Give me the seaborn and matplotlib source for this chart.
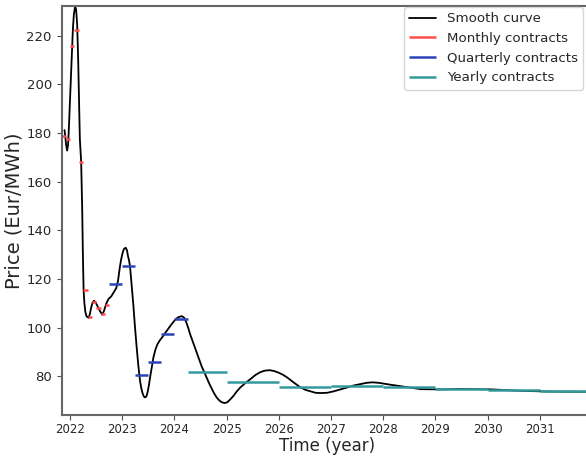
import numpy as np
import pandas as pd
import seaborn as sns
import matplotlib.pyplot as plt

# smooth curve (decimal year, Eur/MWh)
curve_t = [2021.892, 2021.908, 2021.923, 2021.942, 2021.960, 2021.975, 2021.994, 2022.013,
           2022.033, 2022.052, 2022.071, 2022.096, 2022.115, 2022.135, 2022.154, 2022.171,
           2022.186, 2022.211, 2022.231, 2022.244, 2022.258, 2022.273, 2022.292, 2022.315,
           2022.354, 2022.379, 2022.398, 2022.427, 2022.456, 2022.484, 2022.513, 2022.571,
           2022.615, 2022.648, 2022.692, 2022.734, 2022.788, 2022.840, 2022.884, 2022.917,
           2022.950, 2022.975, 2023.003, 2023.032, 2023.065, 2023.090, 2023.109, 2023.128,
           2023.148, 2023.176, 2023.211, 2023.244, 2023.276, 2023.307, 2023.340, 2023.365,
           2023.388, 2023.413, 2023.436, 2023.461, 2023.484, 2023.509, 2023.532, 2023.565,
           2023.596, 2023.634, 2023.672, 2023.715, 2023.757, 2023.840, 2023.917, 2024.013,
           2024.070, 2024.142, 2024.186, 2024.224, 2024.263, 2024.301, 2024.378, 2024.461,
           2024.522, 2024.589, 2024.666, 2024.749, 2024.801, 2024.839, 2024.897, 2024.960,
           2025.012, 2025.070, 2025.133, 2025.195, 2025.262, 2025.358, 2025.454, 2025.551,
           2025.647, 2025.733, 2025.825, 2025.916, 2025.993, 2026.079, 2026.160, 2026.281,
           2026.416, 2026.512, 2026.608, 2026.704, 2026.800, 2026.925, 2027.050, 2027.185,
           2027.313, 2027.434, 2027.569, 2027.684, 2027.794, 2027.915, 2028.030, 2028.146,
           2028.275, 2028.492, 2028.722, 2029.107, 2029.491, 2030.068, 2030.645, 2031.222,
           2031.914]
curve_p = [181.2, 178.4, 175.1, 172.8, 175.1, 181.6, 191.8, 202.9,
           213.5, 222.4, 228.6, 232.2, 230.6, 224.5, 210.2, 191.8,
           177.6, 168.2, 149.0, 130.6, 115.5, 110.2, 106.5, 104.7,
           104.1, 105.7, 107.8, 110.2, 111.1, 110.6, 109.4, 106.9,
           105.4, 106.9, 109.9, 111.8, 112.9, 114.7, 116.3, 119.2,
           124.5, 127.8, 130.6, 132.4, 132.9, 131.8, 129.4, 127.8,
           125.2, 118.4, 109.5, 100.0, 91.8, 84.5, 78.2, 75.1,
           73.1, 71.8, 71.4, 71.8, 73.5, 76.3, 79.6, 83.7,
           87.8, 91.0, 93.2, 94.7, 95.9, 98.4, 100.7, 103.3,
           104.3, 104.8, 104.1, 102.4, 100.0, 97.3, 92.7, 87.8,
           84.1, 80.9, 77.1, 73.5, 71.6, 70.6, 69.5, 69.1,
           69.4, 70.6, 72.1, 73.9, 75.5, 77.3, 78.9, 80.6,
           81.8, 82.4, 82.6, 82.2, 81.6, 80.7, 79.6, 77.6,
           75.5, 74.5, 73.9, 73.3, 73.2, 73.3, 73.9, 74.7,
           75.5, 76.3, 76.9, 77.4, 77.6, 77.4, 77.0, 76.6,
           76.2, 75.5, 74.8, 74.7, 74.9, 74.7, 74.1, 73.8,
           73.7]

# monthly contracts Nov 2021 .. Sep 2022
month_start = [2021 + 10/12, 2021 + 11/12, 2022.0, 2022 + 1/12, 2022 + 2/12, 2022 + 3/12,
               2022 + 4/12, 2022 + 5/12, 2022 + 6/12, 2022 + 7/12, 2022 + 8/12]
month_end = [2021 + 11/12, 2022.0, 2022 + 1/12, 2022 + 2/12, 2022 + 3/12, 2022 + 4/12,
             2022 + 5/12, 2022 + 6/12, 2022 + 7/12, 2022 + 8/12, 2022 + 9/12]
month_price = [178.9, 177.4, 215.6, 222.3, 167.9, 115.4, 104.6, 110.5, 108.2, 105.8, 109.5]

# quarterly contracts Q4 2022 .. Q1 2024
quarter_start = [2022.75, 2023.0, 2023.25, 2023.5, 2023.75, 2024.0]
quarter_end = [2023.0, 2023.25, 2023.5, 2023.75, 2024.0, 2024.25]
quarter_price = [118.0, 125.2, 80.8, 86.1, 97.6, 103.8]

# yearly contracts
year_start = [2024.25, 2025, 2026, 2027, 2028, 2029, 2030, 2031]
year_end = [2025, 2026, 2027, 2028, 2029, 2030, 2031, 2032]
year_price = [81.9, 77.7, 75.8, 76.2, 75.6, 75.0, 74.3, 73.9]

year_ticks = [2022, 2023, 2024, 2025, 2026, 2027, 2028, 2029, 2030, 2031]

sns.set_style('white')
plt.rcParams['font.family'] = ['DejaVu Sans']

fig = plt.figure(figsize=(5.86, 4.57), dpi=100)
ax = fig.add_axes([0.105, 0.092, 0.905, 0.895])

curve_df = pd.DataFrame({'t': curve_t, 'price': curve_p})
sns.lineplot(data=curve_df, x='t', y='price', ax=ax, color='black', linewidth=1.3,
             sort=False, estimator=None, label='Smooth curve')

ax.hlines(month_price, month_start, month_end, colors='#ff4d4d', linewidth=1.8, label='Monthly contracts')
ax.hlines(quarter_price, quarter_start, quarter_end, colors='#2b44b8', linewidth=1.8, label='Quarterly contracts')
ax.hlines(year_price, year_start, year_end, colors='#339a9c', linewidth=1.8, label='Yearly contracts')

ax.set_xlim(2021.835, 2032.0)
ax.set_ylim(64.2, 232.2)
ax.set_xticks(year_ticks)
ax.set_xticklabels([str(y) for y in year_ticks], fontsize=8.5)
ax.set_yticks([80, 100, 120, 140, 160, 180, 200, 220])
ax.tick_params(axis='y', labelsize=9.5)
ax.tick_params(axis='x', pad=2.5)
ax.tick_params(axis='both', direction='out', length=3.5, width=0.8, color='0.3', bottom=True, left=True)

ax.set_xlabel('Time (year)', fontsize=12, labelpad=0.5)
ax.set_ylabel('Price (Eur/MWh)', fontsize=14, labelpad=2)

for s in ax.spines.values():
    s.set_color('0.4')
    s.set_linewidth(1.5)

ax.legend(loc='upper right', bbox_to_anchor=(583 / 586, 1 - 7 / 457), bbox_transform=fig.transFigure,
          fontsize=9.6, frameon=True, edgecolor='0.8', fancybox=True, borderaxespad=0, handlelength=2.0)

fig.savefig('out.png', dpi=100)
